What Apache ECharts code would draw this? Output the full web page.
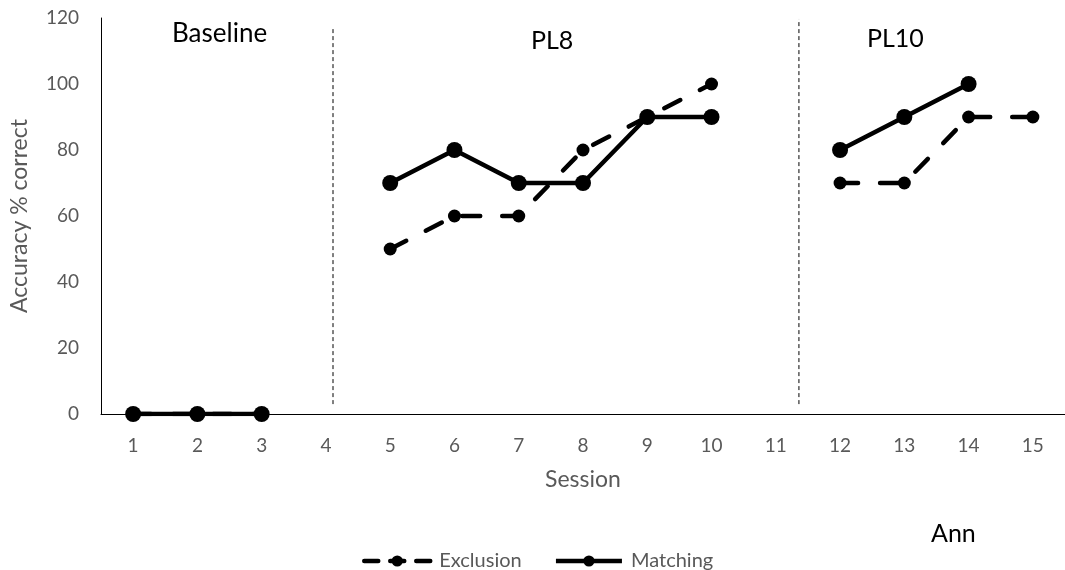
<!DOCTYPE html>
<html>
<head>
<meta charset="utf-8">
<script src="https://cdn.jsdelivr.net/npm/echarts@6/dist/echarts.min.js"></script>
<style>
html,body{margin:0;padding:0;background:#fff;}
#c{width:1065px;height:570px;}
</style>
</head>
<body>
<div id="c"></div>
<script>
// ---- data ----
var sessions = ['1','2','3','4','5','6','7','8','9','10','11','12','13','14','15'];
var exclusion = [0, 0, 0, null, 50, 60, 60, 80, 90, 100, null, 70, 70, 90, 90];
var matching  = [0, 0, 0, null, 70, 80, 70, 70, 90, 90, null, 80, 90, 100, null];
var yTicks = [0, 20, 40, 60, 80, 100, 120];
// phase-change lines (in session-axis units, 0..15 across the plot) and their vertical extent (accuracy %)
var phaseLineX = [3.61, 10.86];
var phaseLineTop = [117.3, 119.7];
var phaseLineBottom = [3, 3];
var phaseNames = ['Baseline', 'PL8', 'PL10'];
var participant = 'Ann';

var chart = echarts.init(document.getElementById('c'), null, {renderer: 'canvas'});
var FONT = 'Lato';
var GREY = '#595959';

var phaseSeries = phaseLineX.map(function (x, i) {
  return {
    type: 'line',
    xAxisIndex: 1,
    data: [[x, phaseLineBottom[i]], [x, phaseLineTop[i]]],
    symbol: 'none',
    silent: true,
    lineStyle: {color: '#000', width: 1, type: [4, 3]},
    z: 1
  };
});

var option = {
  animation: false,
  backgroundColor: '#fff',
  grid: {left: 101, top: 18, width: 973, height: 396, containLabel: false},
  xAxis: [{
    type: 'category',
    data: sessions,
    boundaryGap: true,
    name: 'Session',
    nameLocation: 'middle',
    nameGap: 54,
    nameTextStyle: {color: GREY, fontSize: 23, fontFamily: FONT},
    axisLine: {show: true, lineStyle: {color: '#000', width: 1}},
    axisTick: {show: false},
    axisLabel: {color: GREY, fontSize: 19, fontFamily: FONT, margin: 22},
    splitLine: {show: false}
  }, {
    type: 'value',
    min: 0, max: 15,
    show: false
  }],
  yAxis: {
    type: 'value',
    min: 0, max: 120, interval: 20,
    name: 'Accuracy % correct',
    nameLocation: 'middle',
    nameGap: 70,
    nameTextStyle: {color: GREY, fontSize: 23, fontFamily: FONT},
    axisLine: {show: true, lineStyle: {color: '#000', width: 1}},
    axisTick: {show: false},
    axisLabel: {color: GREY, fontSize: 19, fontFamily: FONT, margin: 22,
      formatter: function (v) { return yTicks.indexOf(v) >= 0 ? String(v) : ''; }},
    splitLine: {show: false}
  },
  legend: {
    left: 357, top: 546,
    itemWidth: 66, itemHeight: 14, itemGap: 32,
    lineStyle: {width: 4.5},
    textStyle: {color: GREY, fontSize: 20, fontFamily: FONT, padding: [0, 0, 0, 4]},
    data: [
      {name: 'Exclusion', itemStyle: {color: '#000'}, lineStyle: {color: '#000', width: 4.5, type: [14, 12]}},
      {name: 'Matching', itemStyle: {color: '#000'}, lineStyle: {color: '#000', width: 4.5, type: 'solid'}}
    ]
  },
  graphic: [
    {type: 'text', left: 172, top: 21, style: {text: phaseNames[0], font: '26px Lato', fill: '#000'}},
    {type: 'text', left: 531, top: 28, style: {text: phaseNames[1], font: '25px Lato', fill: '#000'}},
    {type: 'text', left: 867, top: 26, style: {text: phaseNames[2], font: '25px Lato', fill: '#000'}},
    {type: 'text', left: 931, top: 521, style: {text: participant, font: '25px Lato', fill: '#000'}}
  ],
  series: [{
    name: 'Exclusion',
    type: 'line',
    data: exclusion,
    connectNulls: false,
    symbol: 'circle',
    symbolSize: 13,
    itemStyle: {color: '#000'},
    lineStyle: {color: '#000', width: 4.5, type: [18, 22], cap: 'round'},
    z: 3
  }, {
    name: 'Matching',
    type: 'line',
    data: matching,
    connectNulls: false,
    symbol: 'circle',
    symbolSize: 16,
    itemStyle: {color: '#000'},
    lineStyle: {color: '#000', width: 4.5, type: 'solid'},
    z: 4
  }].concat(phaseSeries)
};
chart.setOption(option);
</script>
</body>
</html>
